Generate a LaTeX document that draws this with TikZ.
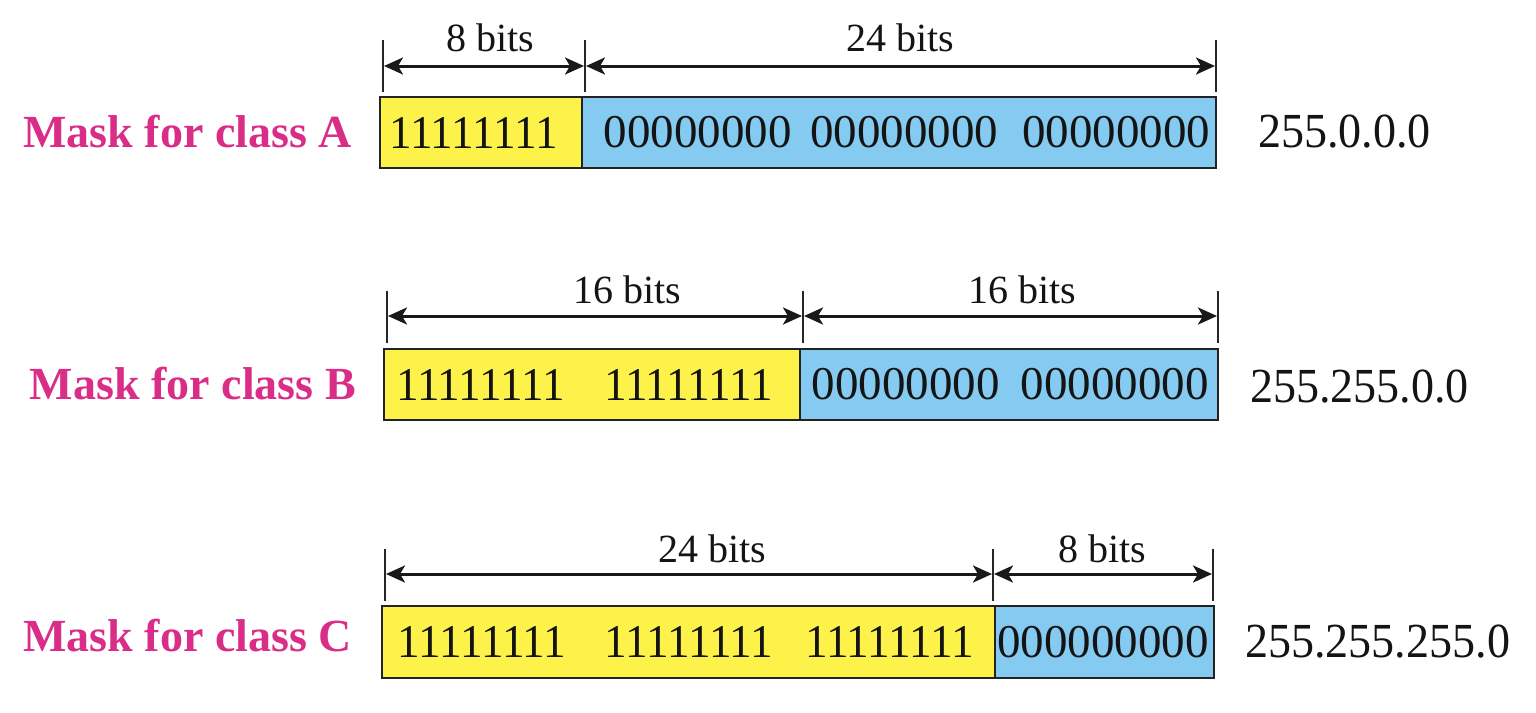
\documentclass[tikz,border=0pt]{standalone}
\usepackage{fontspec}
\setmainfont{Liberation Serif}
\newfontfamily\onesfont[FakeStretch=0.96]{Liberation Serif}
\newfontfamily\addrfont[FakeStretch=0.94]{Liberation Serif}
\usetikzlibrary{arrows.meta}
\definecolor{maskyellow}{RGB}{253,242,74}
\definecolor{maskblue}{RGB}{133,203,241}
\definecolor{maskpink}{RGB}{217,45,135}
\definecolor{boxline}{RGB}{35,35,35}
\begin{document}
\begin{tikzpicture}[x=1pt,y=-1pt,
  segbox/.style={draw=boxline, line width=2.6pt, inner sep=0pt, outer sep=0pt, anchor=north west},
  ones/.style={inner sep=0pt, font=\onesfont\fontsize{47}{50}\selectfont, text=black!92},
  zeros/.style={inner sep=0pt, font=\fontsize{47}{50}\selectfont, text=black!92},
  bitlabel/.style={inner sep=0pt, font=\fontsize{40}{44}\selectfont, text=black!92},
  masklabel/.style={inner sep=0pt, anchor=east, font=\fontsize{46}{50}\selectfont\bfseries, text=maskpink},
  addr/.style={inner sep=0pt, anchor=west, font=\addrfont\fontsize{49}{52}\selectfont, text=black!92},
  tickline/.style={draw=black!85, line width=2pt},
  dimarrow/.style={{Stealth[length=19pt,width=17pt,inset=5pt]}-{Stealth[length=19pt,width=17pt,inset=5pt]}, line width=3pt, draw=black!90, shorten <=1pt, shorten >=1pt}
]
\useasboundingbox (0,0) rectangle (1536,712);

% ---------- Class A ----------
\node[segbox, fill=maskyellow, minimum width=202pt, minimum height=71pt] (ay) at (380,97) {};
\node[segbox, fill=maskblue, minimum width=634pt, minimum height=71pt] (ab) at (582,97) {};
\node[ones] (a1) at (473.5,132.5) {11111111};
\node[zeros] (a2) at (697.5,132.5) {00000000};
\node[zeros] (a3) at (904,132.5) {00000000};
\node[zeros] (a4) at (1116,132.5) {00000000};
\node[masklabel] (al) at (352,132) {Mask for class A};
\node[addr] (aa) at (1258,132) {255.0.0.0};
\coordinate (at1t) at (383,40); \coordinate (at1b) at (383,92);
\coordinate (at2t) at (585,40); \coordinate (at2b) at (585,92);
\coordinate (at3t) at (1216,40); \coordinate (at3b) at (1216,92);
\draw[tickline] (at1t) -- (at1b);
\draw[tickline] (at2t) -- (at2b);
\draw[tickline] (at3t) -- (at3b);
\coordinate (aa1) at (383,66); \coordinate (aa2) at (585,66); \coordinate (aa3) at (1216,66);
\draw[dimarrow] (aa1) -- (aa2);
\draw[dimarrow] (aa2) -- (aa3);
\node[bitlabel] (ab1) at (490,38) {8 bits};
\node[bitlabel] (ab2) at (900,38) {24 bits};

% ---------- Class B ----------
\node[segbox, fill=maskyellow, minimum width=416pt, minimum height=71pt] (by) at (384,349) {};
\node[segbox, fill=maskblue, minimum width=418pt, minimum height=71pt] (bb) at (800,349) {};
\node[ones] (b1) at (480.5,384.5) {11111111};
\node[ones] (b2) at (688.5,384.5) {11111111};
\node[zeros] (b3) at (905.5,384.5) {00000000};
\node[zeros] (b4) at (1114.5,384.5) {00000000};
\node[masklabel] (bl) at (356,384) {Mask for class B};
\node[addr] (ba) at (1250,387) {255.255.0.0};
\coordinate (bt1t) at (387,291); \coordinate (bt1b) at (387,343);
\coordinate (bt2t) at (803,291); \coordinate (bt2b) at (803,343);
\coordinate (bt3t) at (1218,291); \coordinate (bt3b) at (1218,343);
\draw[tickline] (bt1t) -- (bt1b);
\draw[tickline] (bt2t) -- (bt2b);
\draw[tickline] (bt3t) -- (bt3b);
\coordinate (ba1) at (387,316); \coordinate (ba2) at (803,316); \coordinate (ba3) at (1218,316);
\draw[dimarrow] (ba1) -- (ba2);
\draw[dimarrow] (ba2) -- (ba3);
\node[bitlabel] (bb1) at (627,290) {16 bits};
\node[bitlabel] (bb2) at (1022,290) {16 bits};

% ---------- Class C ----------
\node[segbox, fill=maskyellow, minimum width=613pt, minimum height=72pt] (cy) at (382,606) {};
\node[segbox, fill=maskblue, minimum width=219pt, minimum height=72pt] (cb) at (995,606) {};
\node[ones] (c1) at (482,642) {11111111};
\node[ones] (c2) at (689,642) {11111111};
\node[ones] (c3) at (889.5,642) {11111111};
\node[zeros] (c4) at (1103,642) {000000000};
\node[masklabel] (cl) at (352,636) {Mask for class C};
\node[addr] (ca) at (1245,642) {255.255.255.0};
\coordinate (ct1t) at (385,549); \coordinate (ct1b) at (385,601);
\coordinate (ct2t) at (993,549); \coordinate (ct2b) at (993,601);
\coordinate (ct3t) at (1213,549); \coordinate (ct3b) at (1213,601);
\draw[tickline] (ct1t) -- (ct1b);
\draw[tickline] (ct2t) -- (ct2b);
\draw[tickline] (ct3t) -- (ct3b);
\coordinate (ca1) at (385,574); \coordinate (ca2) at (993,574); \coordinate (ca3) at (1213,574);
\draw[dimarrow] (ca1) -- (ca2);
\draw[dimarrow] (ca2) -- (ca3);
\node[bitlabel] (cb1) at (712,549) {24 bits};
\node[bitlabel] (cb2) at (1102,549) {8 bits};
\end{tikzpicture}
\end{document}
